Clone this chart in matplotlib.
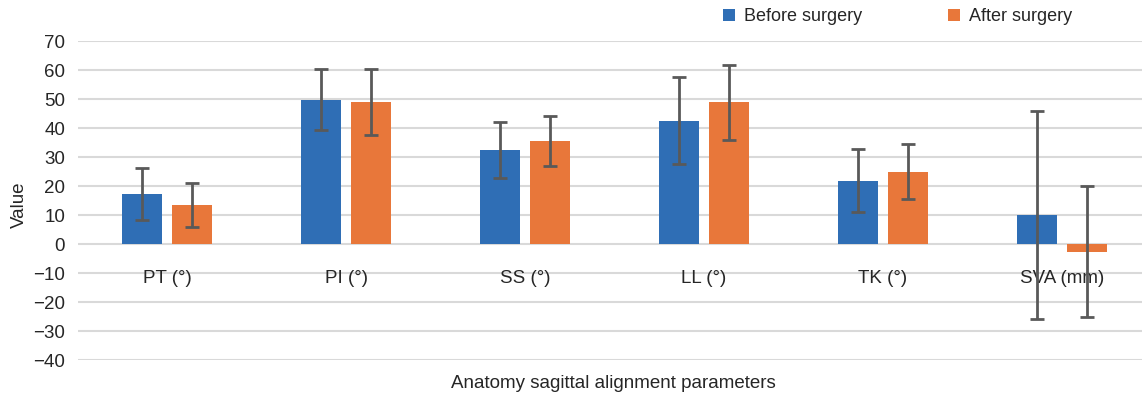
import numpy as np
import matplotlib.pyplot as plt

plt.rcParams['font.family'] = ['Liberation Sans', 'DejaVu Sans']

categories = ['PT (°)', 'PI (°)', 'SS (°)', 'LL (°)', 'TK (°)', 'SVA (mm)']
before_mean = [17.2, 49.8, 32.5, 42.5, 21.8, 10.0]
before_sd = [9.0, 10.5, 9.6, 15.0, 10.9, 36.0]
after_mean = [13.3, 49.0, 35.5, 48.8, 25.0, -2.6]
after_sd = [7.6, 11.3, 8.7, 12.9, 9.5, 22.5]
y_ticks = [-40, -30, -20, -10, 0, 10, 20, 30, 40, 50, 60, 70]

blue = '#2F6EB5'
orange = '#E8773A'
err_color = '#595959'
txt = '#262626'

fig = plt.figure(figsize=(11.42, 3.95), dpi=100)
ax = fig.add_axes([0.0679, 0.0886, 0.9321, 0.8076])

x = np.arange(len(categories))
w = 0.223
off = 0.14
err_kw = dict(ecolor=err_color, elinewidth=2, capsize=5, capthick=2)
b1 = ax.bar(x - off, before_mean, w, yerr=before_sd, color=blue,
            error_kw=err_kw, zorder=3, label='Before surgery')
b2 = ax.bar(x + off, after_mean, w, yerr=after_sd, color=orange,
            error_kw=err_kw, zorder=3, label='After surgery')

ax.set_xlim(-0.5, 5.447)
ax.set_ylim(-40, 70)
ax.set_yticks(y_ticks)
ax.set_xticks([])
ax.yaxis.grid(True, color='#D9D9D9', linewidth=1.5, zorder=0)
ax.set_axisbelow(True)
for s in ax.spines.values():
    s.set_visible(False)
ax.tick_params(axis='y', length=0, labelsize=13.5, labelcolor=txt, pad=9)

# category labels sit inside the plot under the zero line
for xi, name in zip(x, categories):
    ax.text(xi, -12, name, ha='center', va='center', fontsize=13.5, color=txt)

ax.set_ylabel('Value', fontsize=13.5, color=txt)
ax.yaxis.set_label_coords(-0.047, 0.486)
fig.text(0.5375, 0.03, 'Anatomy sagittal alignment parameters',
         ha='center', va='center', fontsize=13.5, color=txt)

fig.legend(handles=[b1, b2], loc='center', bbox_to_anchor=(0.786, 0.957),
           ncol=2, frameon=False, fontsize=13, handlelength=0.65,
           handleheight=0.65, handletextpad=0.5, columnspacing=4.8,
           labelcolor=txt)

fig.savefig('out.png', dpi=100)
